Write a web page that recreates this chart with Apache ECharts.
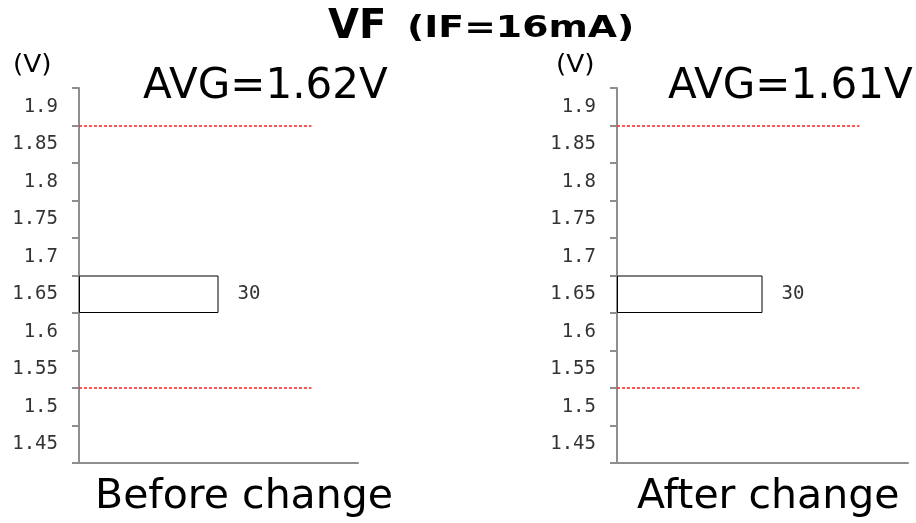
<!DOCTYPE html>
<html>
<head>
<meta charset="utf-8">
<script src="https://cdn.jsdelivr.net/npm/echarts@6/dist/echarts.min.js"></script>
<style>
html,body{margin:0;padding:0;background:#fff;}
#main{width:916px;height:523px;}
</style>
</head>
<body>
<div id="main"></div>
<script>
// ---- data ----
const binLabels = ['1.45','1.5','1.55','1.6','1.65','1.7','1.75','1.8','1.85','1.9'];
const countsBefore = [0,0,0,0,30,0,0,0,0,0];
const countsAfter  = [0,0,0,0,30,0,0,0,0,0];
const specLimits = [1.525, 1.875];   // red dashed limit lines (V)
const specLineLen = 50;              // red line length in count units
const countMax = 60;
const titleMain = 'VF';
const titleSub = '(IF=16mA)';
const avgLabels = ['AVG=1.62V', 'AVG=1.61V'];
const panelLabels = ['Before change', 'After change'];
const unitLabel = '(V)';

const monoFont = "'DejaVu Sans Mono', 'Liberation Mono', monospace";
const sansFont = "'DejaVu Sans', Verdana, sans-serif";
const axisGray = '#8e8e8e';

function toBars(arr){ return arr.map(v => v === 0 ? null : v); }

const grids = [
  {left:79, top:88, width:279, height:375},
  {left:617, top:88, width:291, height:375}
];

const xAxes = [0,1].map(i => ({
  type:'value', gridIndex:i, min:0, max:countMax,
  axisLine:{show:true, lineStyle:{color:axisGray, width:2}},
  axisTick:{show:false}, axisLabel:{show:false}, splitLine:{show:false}
}));

const yAxes = [];
[0,1].forEach(i => {
  yAxes.push({
    type:'category', gridIndex:i, data:binLabels, boundaryGap:true,
    axisLine:{show:true, lineStyle:{color:axisGray, width:2}},
    axisTick:{show:true, length:7, lineStyle:{color:axisGray, width:2}},
    axisLabel:{margin:21, fontFamily:monoFont, fontSize:19, color:'#333'},
    splitLine:{show:false}
  });
});
[0,1].forEach(i => {
  yAxes.push({
    type:'value', gridIndex:i, min:1.425, max:1.925, show:false,
    splitLine:{show:false}
  });
});

function barSeries(i, counts){
  return {
    type:'bar', xAxisIndex:i, yAxisIndex:i, data:toBars(counts),
    barWidth:'100%', silent:true,
    itemStyle:{color:'#fff', borderColor:'#000', borderWidth:1},
    label:{show:true, position:'right', distance:19, fontFamily:monoFont, fontSize:19, color:'#333'}
  };
}
const redStyle = {color:'#ff2020', width:1.5, type:[3,2], opacity:1};
function limitSeries(i){
  return {
    type:'line', xAxisIndex:i, yAxisIndex:2+i, data:[], silent:true,
    color:'#ff2020',
    markLine:{
      silent:true, symbol:'none', label:{show:false},
      lineStyle:redStyle,
      emphasis:{disabled:true},
      data: specLimits.map(v => [{coord:[0, v], lineStyle:redStyle}, {coord:[specLineLen, v]}])
    }
  };
}

const graphics = [
  {type:'text', left:328, top:8, style:{text:titleMain, font:"bold 40px " + sansFont, fill:'#000'}},
  {type:'text', left:407, top:14, scaleX:1.26, style:{text:titleSub, font:"bold 30px " + sansFont, fill:'#000'}},
];
const avgX = [143, 668], unitX = [13, 556], labelX = [95, 637];
[0,1].forEach(i => {
  graphics.push({type:'text', left:unitX[i], top:54, scaleX:1.1, style:{text:unitLabel, font:"24px " + sansFont, fill:'#000'}});
  graphics.push({type:'text', left:avgX[i], top:66, style:{text:avgLabels[i], font:"42px " + sansFont, fill:'#000'}});
  graphics.push({type:'text', left:labelX[i], top:477, style:{text:panelLabels[i], font:"41px " + sansFont, fill:'#000'}});
});

const chart = echarts.init(document.getElementById('main'), null, {renderer:'canvas'});
chart.setOption({
  animation:false,
  backgroundColor:'#fff',
  grid:grids,
  xAxis:xAxes,
  yAxis:yAxes,
  series:[barSeries(0, countsBefore), barSeries(1, countsAfter), limitSeries(0), limitSeries(1)],
  graphic:graphics
});
</script>
</body>
</html>
